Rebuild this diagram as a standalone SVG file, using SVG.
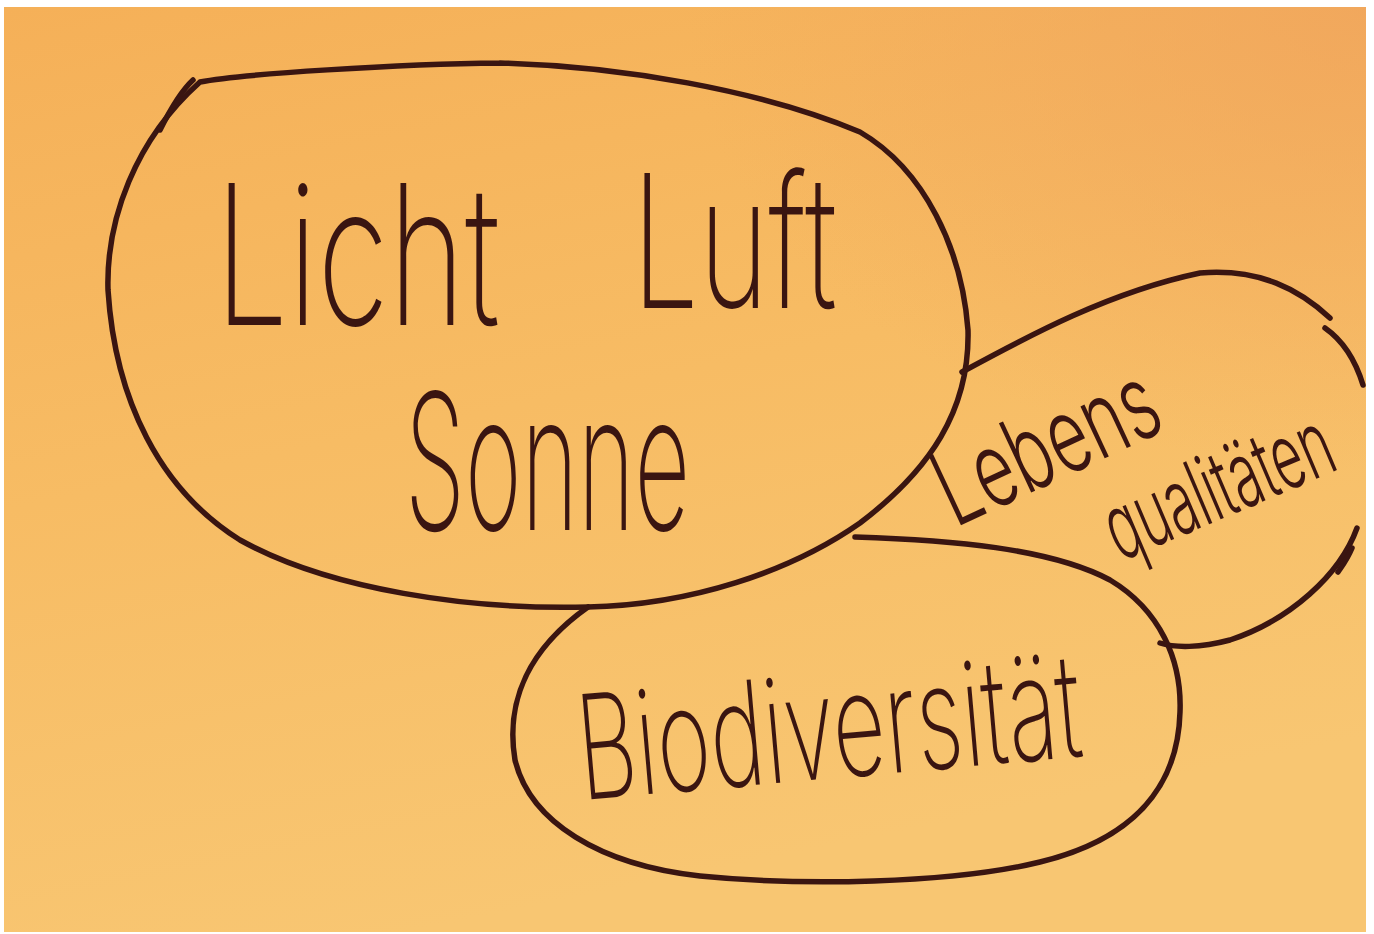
<svg xmlns="http://www.w3.org/2000/svg" width="1374" height="934" viewBox="0 0 1374 934">
<style>
.ink{fill:none;stroke:#3a1511;stroke-width:5.5;stroke-linecap:round;stroke-linejoin:round}
.hw{fill:#3a1511;font-family:Inter,"Liberation Sans",sans-serif;font-weight:200}
.hs{fill:#3a1511;font-family:Inter,"Liberation Sans",sans-serif;font-weight:300}
</style>
<defs>
<linearGradient id="paper" x1="0" y1="0" x2="0.3" y2="1">
<stop offset="0" stop-color="#f5b058"/>
<stop offset="0.5" stop-color="#f7bc64"/>
<stop offset="1" stop-color="#f8c672"/>
</linearGradient>
<radialGradient id="tr" cx="1" cy="0" r="0.5">
<stop offset="0" stop-color="#f0a45c" stop-opacity="0.8"/>
<stop offset="1" stop-color="#f0a45c" stop-opacity="0"/>
</radialGradient>
</defs>
<rect width="1374" height="934" fill="#ffffff"/>
<rect x="4" y="7" width="1362" height="925" fill="url(#paper)"/>
<rect x="4" y="7" width="1362" height="925" fill="url(#tr)"/>

<g id="node-licht-luft-sonne">
<path class="ink" d="M500,63 C620,66 760,90 860,132 C925,170 962,250 968,330 C970,410 930,470 860,523 C790,572 690,605 588,607 C470,610 330,590 240,540 C160,490 115,400 108,290 C106,220 135,140 200,82 C240,74 400,64 500,63"/>
<path class="ink" d="M160,130 C170,110 180,92 193,80"/>
<text class="hw" x="215" y="325" font-size="195" textLength="285" lengthAdjust="spacingAndGlyphs">Licht</text>
<text class="hw" x="632" y="308" font-size="185" textLength="205" lengthAdjust="spacingAndGlyphs">Luft</text>
<text class="hw" x="405" y="530" font-size="190" textLength="285" lengthAdjust="spacingAndGlyphs">Sonne</text>
</g>

<g id="node-lebensqualitaeten">
<path class="ink" d="M962,372 C1030,335 1110,292 1200,273 C1260,268 1300,290 1330,318"/>
<path class="ink" d="M1325,328 C1345,342 1356,362 1363,385"/>
<path class="ink" d="M1357,528 C1340,575 1290,620 1230,640 C1200,648 1175,648 1160,643"/>
<path class="ink" d="M1352,548 C1347,560 1342,566 1338,572"/>
<text class="hs" font-size="105" transform="translate(955,528) rotate(-25)" textLength="235" lengthAdjust="spacingAndGlyphs">Lebens</text>
<text class="hs" font-size="92" transform="translate(1120,562) rotate(-23)" textLength="240" lengthAdjust="spacingAndGlyphs">qualitäten</text>
</g>

<g id="node-biodiversitaet">
<path class="ink" d="M855,537 C950,540 1050,548 1110,580 C1160,610 1182,660 1180,712 C1178,790 1130,840 1040,862 C950,884 800,886 700,876 C600,865 530,822 515,760 C505,700 530,648 588,607"/>
<text class="hw" font-size="145" transform="translate(582,800) rotate(-5)" textLength="505" lengthAdjust="spacingAndGlyphs">Biodiversität</text>
</g>

<g id="connectors"/>
</svg>
